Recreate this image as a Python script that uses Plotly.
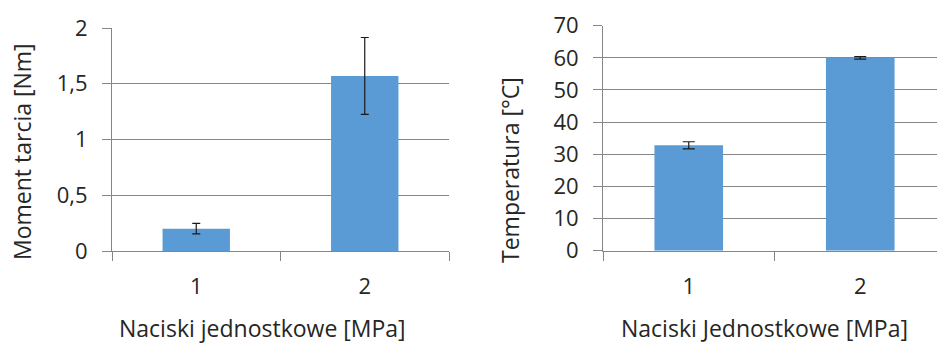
import plotly.graph_objects as go

W, H = 937, 345

categories = ["1", "2"]
torque = [0.20, 1.57]
torque_err = [0.047, 0.345]
temperature = [32.8, 60.0]
temperature_err = [1.1, 0.4]

left_y_title = "Moment tarcia [Nm]"
left_x_title = "Naciski jednostkowe [MPa]"
right_y_title = "Temperatura [°C]"
right_x_title = "Naciski Jednostkowe [MPa]"

BAR = "#5B9BD5"
GRID = "#868686"
TXT = "#262626"
FONT = "Open Sans"

def px_x(p):
    return p / W

def px_y(p):
    return 1 - p / H

fig = go.Figure()
fig.add_trace(go.Bar(x=categories, y=torque, marker_color=BAR, width=0.4,
                     error_y=dict(type="data", array=torque_err, color="#1a1a1a", thickness=1.2, width=4),
                     xaxis="x", yaxis="y", showlegend=False))
fig.add_trace(go.Bar(x=categories, y=temperature, marker_color=BAR, width=0.4,
                     error_y=dict(type="data", array=temperature_err, color="#1a1a1a", thickness=1.2, width=6),
                     xaxis="x2", yaxis="y2", showlegend=False))

axis_common = dict(showline=True, linecolor=GRID, linewidth=1, ticks="outside", ticklen=9,
                   tickcolor=GRID, automargin=False, tickfont=dict(family=FONT, size=22, color=TXT))

fig.update_layout(
    template="none",
    width=W, height=H, margin=dict(l=0, r=0, t=0, b=0, pad=0),
    paper_bgcolor="white", plot_bgcolor="white",
    separators=", ",
    xaxis=dict(domain=[px_x(112), px_x(449)], anchor="y", type="category", range=[-0.5, 1.5],
               tickson="boundaries", showgrid=False, ticklabelstandoff=16, **axis_common),
    yaxis=dict(domain=[px_y(251), px_y(28)], anchor="x", range=[0, 2], dtick=0.5, ticklabelstandoff=10,
               showgrid=True, gridcolor=GRID, gridwidth=1, zeroline=False, **axis_common),
    xaxis2=dict(domain=[px_x(603), 1.0], anchor="y2", type="category", range=[-0.5, (937 - 603) / 171.5 - 0.5],
                tickson="boundaries", showgrid=False, ticklabelstandoff=16, **axis_common),
    yaxis2=dict(domain=[px_y(250.7), px_y(25.7)], anchor="x2", range=[0, 70], dtick=10, ticklabelstandoff=10,
                showgrid=True, gridcolor=GRID, gridwidth=1, zeroline=False, **axis_common),
)

tfont = dict(family=FONT, size=23, color=TXT)
fig.add_annotation(text=left_y_title, x=px_x(22), y=px_y(152), xref="paper", yref="paper",
                   textangle=-90, showarrow=False, font=tfont, xanchor="center", yanchor="middle")
fig.add_annotation(text=right_y_title, x=px_x(510), y=px_y(170), xref="paper", yref="paper",
                   textangle=-90, showarrow=False, font=tfont, xanchor="center", yanchor="middle")
fig.add_annotation(text=left_x_title, x=px_x(262), y=px_y(328), xref="paper", yref="paper",
                   showarrow=False, font=tfont, xanchor="center", yanchor="middle")
fig.add_annotation(text=right_x_title, x=px_x(764), y=px_y(328), xref="paper", yref="paper",
                   showarrow=False, font=tfont, xanchor="center", yanchor="middle")

fig.write_html("out.html", config={"displayModeBar": False},
               post_script="document.body.style.margin='0';document.body.style.overflow='hidden';")
